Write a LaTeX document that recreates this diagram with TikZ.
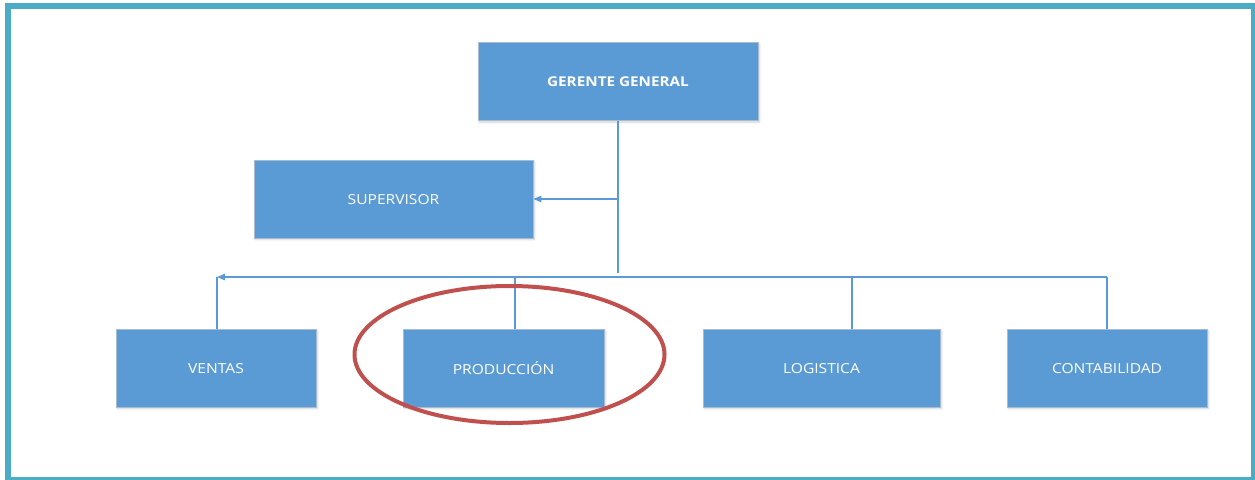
\documentclass[tikz,border=0pt]{standalone}
\usepackage{fontspec}
\setmainfont{Open Sans}
\newfontfamily\labelfont[FakeStretch=1.13]{Open Sans}
\usetikzlibrary{arrows.meta,shadows.blur}
\definecolor{boxblue}{HTML}{5B9BD5}
\definecolor{boxedge}{HTML}{A9BCCF}
\definecolor{frameteal}{HTML}{4BACC6}
\definecolor{ringred}{HTML}{C0504D}
\tikzset{
  unit/.style={draw=boxedge, line width=0.8pt, fill=boxblue, text=white,
    minimum height=78pt, inner sep=0pt, text depth=0pt,
    font=\labelfont\fontsize{13.8}{15}\selectfont,
    blur shadow={shadow xshift=1.5pt, shadow yshift=-1.5pt, shadow blur steps=6, shadow opacity=18}},
  link/.style={draw=boxblue, line width=1.2pt},
  tip/.style={-{Triangle[length=8pt,width=6.5pt]}}
}
\begin{document}
\begin{tikzpicture}[x=1pt,y=-1pt]
  \useasboundingbox (0,0) rectangle (1255,479);
  % outer frame
  \begin{scope}
    \clip (0,0) rectangle (1255,479);
    \draw[frameteal, line width=6pt] (8,6) rectangle (1254,480);
  \end{scope}

  % units
  \node[unit, minimum width=280pt, font=\labelfont\fontsize{13.5}{15}\selectfont\bfseries] (gg) at (618,81.5) {GERENTE GENERAL};
  \node[unit, minimum width=279pt] (sup) at (393.5,199) {SUPERVISOR};
  \node[unit, minimum width=200pt] (ven) at (216,368) {VENTAS};
  \node[unit, minimum width=201pt] (pro) at (503.5,368) {PRODUCCIÓN};
  \node[unit, minimum width=237pt] (log) at (821.5,368) {LOGISTICA};
  \node[unit, minimum width=200pt] (con) at (1107,368) {CONTABILIDAD};

  % bus ends
  \coordinate (trunk) at (618,273);
  \coordinate (busL) at (217,277);
  \coordinate (busR) at (1107,277);

  % trunk from the general manager
  \draw[link] (gg.south) -- (gg.south |- trunk);
  \draw[link, tip] (gg.south |- sup.east) -- (sup.east);

  % horizontal bus and drops
  \draw[link, tip] (busR) -- (busL);
  \draw[link] ([xshift=1pt]ven.north) -- ([xshift=1pt]ven.north |- busL);
  \draw[link] ([xshift=11.5pt]pro.north) -- ([xshift=11.5pt]pro.north |- busL);
  \draw[link] ([xshift=30.5pt]log.north) -- ([xshift=30.5pt]log.north |- busL);
  \draw[link] (con.north) -- (con.north |- busR);

  % highlight ring
  \draw[ringred, line width=4pt] (509.5,354.5) ellipse [x radius=155, y radius=68.5];
\end{tikzpicture}
\end{document}
